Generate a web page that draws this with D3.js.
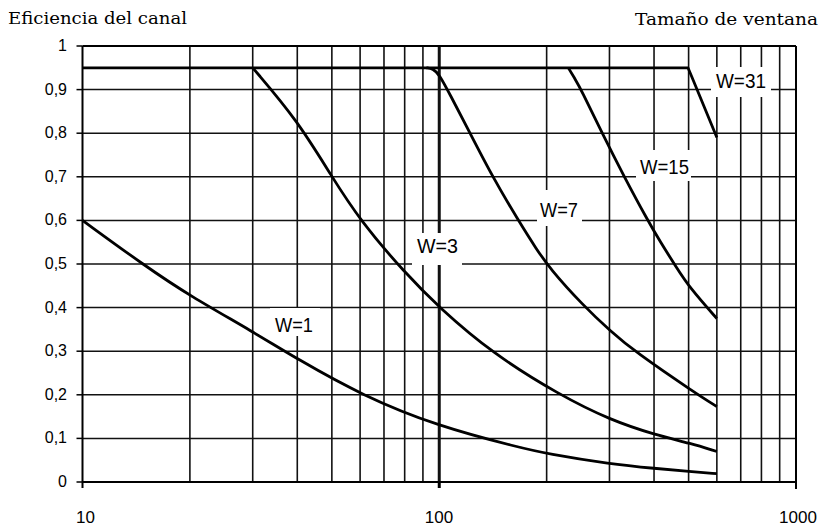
<!DOCTYPE html>
<html><head><meta charset="utf-8">
<script src="https://cdn.jsdelivr.net/npm/d3@7"></script>
<style>body{margin:0;background:#fff}svg{display:block}</style>
</head><body>
<svg id="c" width="821" height="526"></svg>
<script>
// ---- data ----
const yTicks = [0,0.1,0.2,0.3,0.4,0.5,0.6,0.7,0.8,0.9,1];
const yTickLabels = ["0","0,1","0,2","0,3","0,4","0,5","0,6","0,7","0,8","0,9","1"];
const xTicks = [10,100,1000];
const xTickLabels = ["10","100","1000"];
const xGrid = [20,30,40,50,60,70,80,90,100,200,300,400,500,600,700,800,900];

const xW1 = [10,15,20,30,40,61,99,168,200,302,404,505,600];
const yW1 = [0.60,0.495,0.427,0.345,0.282,0.198,0.128,0.079,0.065,0.041,0.031,0.024,0.019];
const xW3 = [30,40,50,60,80,100,141,217,302,404,505,600];
const yW3 = [0.95,0.83,0.70,0.60,0.48,0.40,0.295,0.20,0.142,0.108,0.089,0.070];
const xW7 = [92,96,100,107,122,141,168,187,204,253,303,352,524,600];
const yW7 = [0.95,0.948,0.935,0.89,0.80,0.70,0.595,0.535,0.49,0.405,0.345,0.30,0.203,0.173];
const xW15 = [230,240,250,286,330,384,417,460,505,600];
const yW15 = [0.95,0.925,0.90,0.80,0.70,0.60,0.55,0.495,0.444,0.375];
const xW31 = [10,498,510,600];
const yW31 = [0.95,0.95,0.93,0.79];
const seriesNames = ["W=1","W=3","W=7","W=15","W=31"];

const yTitle = "Eficiencia del canal";
const xTitle = "Tamaño de ventana";

// ---- drawing ----
const svg = d3.select("#c");
const x = d3.scaleLog().domain([10,1000]).range([82.5,796]);
const y = d3.scaleLinear().domain([0,1]).range([482,46]);

const g = svg.append("g");
// vertical grid
g.selectAll("line.vg").data(xGrid).join("line")
  .attr("x1",d=>x(d)).attr("x2",d=>x(d)).attr("y1",y(1)).attr("y2",y(0))
  .attr("stroke","#111").attr("stroke-width",d=>d===100?3:1.6);
// horizontal grid
g.selectAll("line.hg").data(yTicks.filter(d=>d>0&&d<1)).join("line")
  .attr("x1",x(10)).attr("x2",x(1000)).attr("y1",d=>y(d)).attr("y2",d=>y(d))
  .attr("stroke","#111").attr("stroke-width",1.5);
// frame
g.append("line").attr("x1",x(10)).attr("x2",x(1000)).attr("y1",y(1)).attr("y2",y(1)).attr("stroke","#000").attr("stroke-width",2);
g.append("line").attr("x1",x(10)).attr("x2",x(1000)).attr("y1",y(0)).attr("y2",y(0)).attr("stroke","#000").attr("stroke-width",2);
g.append("line").attr("x1",x(10)).attr("x2",x(10)).attr("y1",y(1)).attr("y2",y(0)+6).attr("stroke","#000").attr("stroke-width",2);
g.append("line").attr("x1",x(1000)).attr("x2",x(1000)).attr("y1",y(1)).attr("y2",y(0)+7).attr("stroke","#000").attr("stroke-width",2);
g.append("line").attr("x1",x(100)).attr("x2",x(100)).attr("y1",y(0)).attr("y2",y(0)+6).attr("stroke","#000").attr("stroke-width",3);
// y ticks
g.selectAll("line.yt").data(yTicks).join("line")
  .attr("x1",x(10)-6).attr("x2",x(10)).attr("y1",d=>y(d)).attr("y2",d=>y(d))
  .attr("stroke","#000").attr("stroke-width",1.5);

// label boxes (white, break the grid)
const boxes = [[270,308,50,28],[412,233,50,32],[537,190,45,36],[636,150,55,31],[711,67,60,30]];
g.selectAll("rect.box").data(boxes).join("rect")
  .attr("x",d=>d[0]).attr("y",d=>d[1]).attr("width",d=>d[2]).attr("height",d=>d[3]).attr("fill","#fff");

// curves
const series = [[xW1,yW1],[xW3,yW3],[xW7,yW7],[xW15,yW15],[xW31,yW31]];
const line = d3.line().x(d=>x(d[0])).y(d=>y(d[1])).curve(d3.curveBasis);
series.forEach(([xs,ys],k)=>{
  const l = k===4 ? d3.line().x(d=>x(d[0])).y(d=>y(d[1])) : line;
  g.append("path").attr("d",l(xs.map((v,i)=>[v,ys[i]])))
   .attr("fill","none").attr("stroke","#000").attr("stroke-width",2.8).attr("stroke-linejoin","round");
});

function txt(s,px,py,opt){
  const t = svg.append("text").attr("x",px).attr("y",py).text(s)
    .attr("font-family",opt.font).attr("font-size",opt.size).attr("fill","#000")
    .attr("text-anchor",opt.anchor||"start");
  if(opt.len){t.attr("textLength",opt.len).attr("lengthAdjust","spacingAndGlyphs");}
  return t;
}
const sans = "'Liberation Sans', Arial, sans-serif";
const serif = "'DejaVu Serif', serif";

// series labels
const labelPos = [[275,332,38],[417,253,41],[540,217,38],[640,174,49],[716,88,50]];
seriesNames.forEach((n,i)=>txt(n,labelPos[i][0],labelPos[i][1],{font:sans,size:20,len:labelPos[i][2]}));

// tick labels
yTicks.forEach((v,i)=>txt(yTickLabels[i],67,y(v)+5,{font:sans,size:16,anchor:"end"}));
const xLabelX = [85.5,439,798];
xTicks.forEach((v,i)=>txt(xTickLabels[i],xLabelX[i],523,{font:sans,size:17,anchor:"middle"}));

// titles
txt(yTitle,8,24,{font:serif,size:16,len:179});
txt(xTitle,635,25,{font:serif,size:16,len:183});
</script>
</body></html>
